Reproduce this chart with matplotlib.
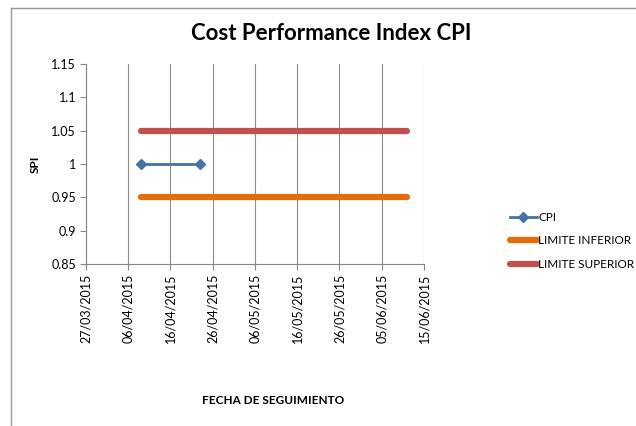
import datetime as dt
import matplotlib
matplotlib.use("Agg")
import matplotlib.pyplot as plt
import matplotlib.dates as mdates
from matplotlib.lines import Line2D

plt.rcParams['font.family'] = ['Lato', 'DejaVu Sans']

# data
cpi_dates = [dt.date(2015, 4, 9), dt.date(2015, 4, 23)]
cpi_values = [1.0, 1.0]
limit_dates = [dt.date(2015, 4, 9), dt.date(2015, 6, 11)]
lim_inf = [0.95, 0.95]
lim_sup = [1.05, 1.05]
x_ticks = [dt.date(2015, 3, 27) + dt.timedelta(days=10 * i) for i in range(9)]
y_ticks = [0.85, 0.9, 0.95, 1, 1.05, 1.1, 1.15]
y_labels = ['0.85', '0.9', '0.95', '1', '1.05', '1.1', '1.15']

W, H = 636, 426
fig = plt.figure(figsize=(W / 100, H / 100), dpi=100)
# chart area border (only left and top visible in the reference)
fig.add_artist(Line2D([11 / W, 11 / W], [0, 1 - 7.5 / H], transform=fig.transFigure, color='#999999', lw=1))
fig.add_artist(Line2D([11 / W, 1], [1 - 7.5 / H, 1 - 7.5 / H], transform=fig.transFigure, color='#999999', lw=1))

ax = fig.add_axes([85.7 / W, 1 - 264 / H, (424 - 85.7) / W, 200 / H])

ax.plot(limit_dates, lim_inf, color='#E46C0A', lw=4.5, solid_capstyle='round', label='LIMITE INFERIOR', zorder=3)
ax.plot(limit_dates, lim_sup, color='#C0504D', lw=4.5, solid_capstyle='round', label='LIMITE SUPERIOR', zorder=3)
ax.plot(cpi_dates, cpi_values, color='#4572A7', lw=2, marker='D', markersize=5.5, label='CPI', zorder=4)

ax.set_xlim(x_ticks[0], x_ticks[-1])
ax.set_ylim(0.85, 1.15)
ax.set_xticks(x_ticks)
ax.xaxis.set_major_formatter(mdates.DateFormatter('%d/%m/%Y'))
ax.set_yticks(y_ticks)
ax.set_yticklabels(y_labels)
ax.tick_params(axis='x', rotation=90, labelsize=9, length=4, color='#868686', pad=3)
ax.tick_params(axis='y', labelsize=9, length=4, color='#868686', pad=3)
ax.grid(axis='x', color='#8c8c8c', lw=0.8)
ax.set_axisbelow(True)
for s in ['top', 'right']:
    ax.spines[s].set_visible(False)
for s in ['left', 'bottom']:
    ax.spines[s].set_color('#868686')

fig.text(331 / W, 1 - 34 / H, 'Cost Performance Index CPI', ha='center', va='center',
         fontsize=16, fontweight='bold')
fig.text(35 / W, 1 - 164 / H, 'SPI', rotation=90, ha='center', va='center', fontsize=8.5, fontweight='bold')
fig.text(273 / W, 1 - 400 / H, 'FECHA DE SEGUIMIENTO', ha='center', va='center', fontsize=8.5, fontweight='bold')

h, l = ax.get_legend_handles_labels()
order = [2, 0, 1]
fig.legend([h[i] for i in order], [l[i] for i in order], loc='center left',
           bbox_to_anchor=(505 / W, 1 - 241 / H), frameon=False, fontsize=8.5,
           handlelength=2.3, handletextpad=0.1, labelspacing=1.05, borderaxespad=0)

fig.savefig('out.png', dpi=100)
